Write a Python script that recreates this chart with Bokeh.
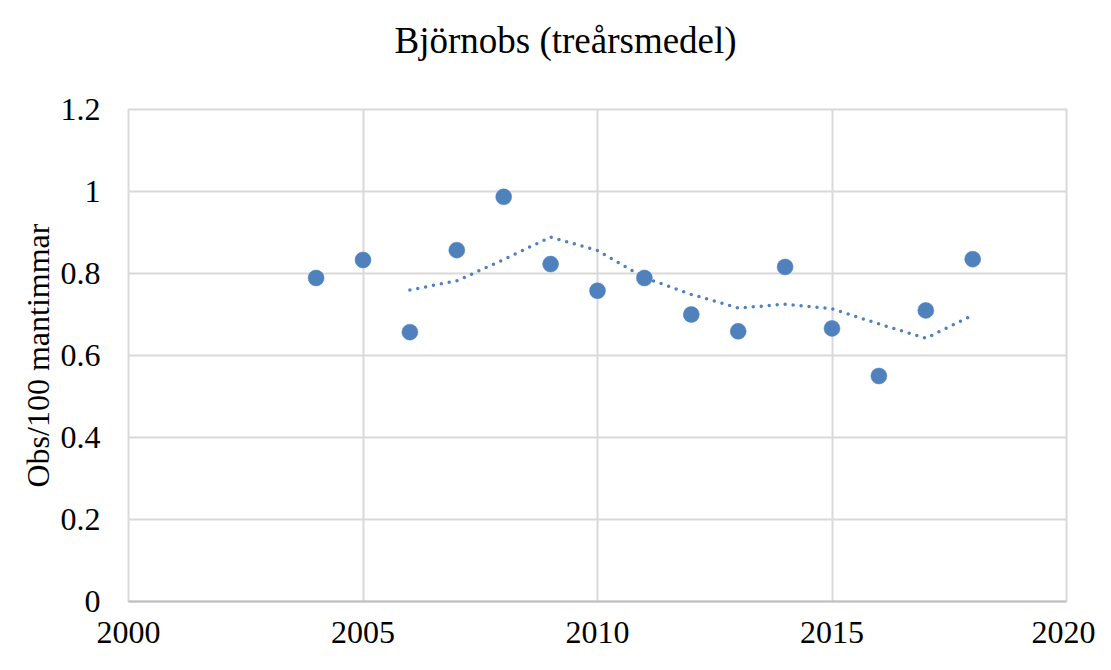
from bokeh.plotting import figure
from bokeh.models import FixedTicker, Title
from bokeh.embed import file_html
from bokeh.resources import INLINE

# Data
years = [2004, 2005, 2006, 2007, 2008, 2009, 2010, 2011, 2012, 2013, 2014, 2015, 2016, 2017, 2018]
obs = [0.789, 0.833, 0.657, 0.857, 0.987, 0.823, 0.758, 0.789, 0.700, 0.659, 0.816, 0.666, 0.550, 0.710, 0.835]

avg_years = [2006, 2007, 2008, 2009, 2010, 2011, 2012, 2013, 2014, 2015, 2016, 2017, 2018]
avg_vals = [0.760, 0.782, 0.834, 0.889, 0.856, 0.790, 0.749, 0.716, 0.725, 0.714, 0.677, 0.642, 0.698]

x_ticks = [2000, 2005, 2010, 2015, 2020]
y_ticks = [0, 0.2, 0.4, 0.6, 0.8, 1, 1.2]
y_tick_labels = ["0", "0.2", "0.4", "0.6", "0.8", "1", "1.2"]
title_text = "Björnobs (treårsmedel)"

FONT = "Liberation Serif"
BLUE = "#4f81bd"
GRID = "#d9d9d9"

p = figure(width=1095, height=654, x_range=(2000, 2020), y_range=(0, 1.2),
           output_backend="svg", toolbar_location=None,
           min_border_left=128, min_border_right=29, min_border_top=109, min_border_bottom=53)

# spacer between plot frame and title (added first -> nearest the frame)
spacer = Title(text=" ", text_font=FONT, text_font_size="30px", standoff=10)
p.add_layout(spacer, "above")

main_title = Title(text=title_text, text_font=FONT, text_font_size="37px",
                   text_font_style="normal", text_color="#000000",
                   align="left", offset=266, standoff=8)
p.add_layout(main_title, "above")

p.outline_line_color = GRID
p.outline_line_width = 2

p.xgrid.grid_line_color = GRID
p.xgrid.grid_line_width = 2
p.ygrid.grid_line_color = GRID
p.ygrid.grid_line_width = 2

p.xaxis.ticker = FixedTicker(ticks=x_ticks)
p.yaxis.ticker = FixedTicker(ticks=y_ticks)
p.yaxis.major_label_overrides = {t: l for t, l in zip(y_ticks, y_tick_labels)}

for ax in (p.xaxis[0], p.yaxis[0]):
    ax.major_tick_line_color = None
    ax.minor_tick_line_color = None
    ax.major_label_text_font = FONT
    ax.major_label_text_font_size = "32px"
    ax.major_label_text_color = "#000000"

p.xaxis.axis_line_color = "#bfbfbf"
p.xaxis.axis_line_width = 2
p.xaxis.major_label_standoff = 14
p.yaxis.axis_line_color = None
p.yaxis.major_label_standoff = 22

p.yaxis.axis_label = "Obs/100 mantimmar"
p.yaxis.axis_label_text_font = FONT
p.yaxis.axis_label_text_font_size = "32px"
p.yaxis.axis_label_text_font_style = "normal"
p.yaxis.axis_label_text_color = "#000000"
p.yaxis.axis_label_standoff = 2

p.line(avg_years, avg_vals, line_color=BLUE, line_width=3.5, line_dash="0 8", line_cap="round")
p.scatter(years, obs, size=16, fill_color=BLUE, line_color=BLUE, line_width=0.5)

open("out.html", "w").write(file_html(p, INLINE))
